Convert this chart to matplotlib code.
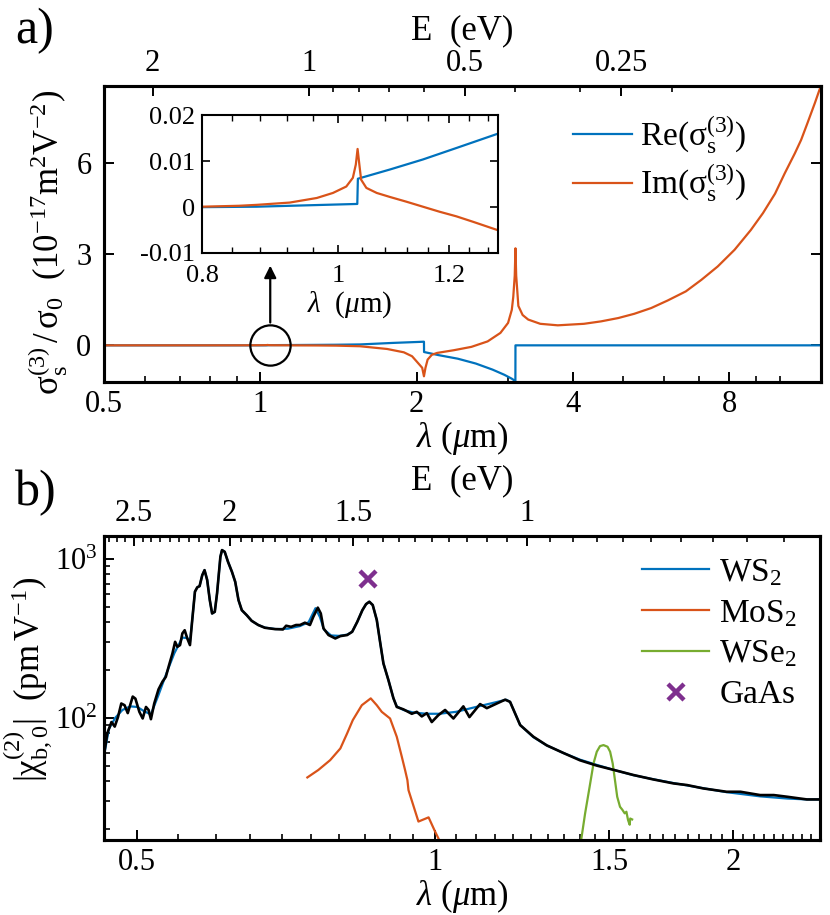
import numpy as np
import matplotlib.pyplot as plt
from matplotlib.ticker import FixedLocator, NullFormatter, MultipleLocator, LogLocator

plt.rcParams['font.family'] = ['Liberation Serif', 'DejaVu Serif']
plt.rcParams['mathtext.fontset'] = 'custom'
plt.rcParams['mathtext.rm'] = 'Liberation Serif'
plt.rcParams['mathtext.it'] = 'Liberation Serif:italic'
plt.rcParams['mathtext.default'] = 'regular'
plt.rcParams['xtick.direction'] = 'in'
plt.rcParams['ytick.direction'] = 'in'

# ---- panel a): third-order sheet conductivity (read from figure)
lam_re = [0.5, 0.8, 0.875, 1.0325, 1.0335, 1.089, 1.15, 1.215, 1.30, 1.4, 1.556, 1.8,
          2.0, 2.066, 2.067, 2.2, 2.4, 2.6, 2.8, 2.95, 3.05, 3.099, 3.1, 12.0]
re_s3 = [0.0, 0.0, 0.0001, 0.0007, 0.0062, 0.0082, 0.0104, 0.0129, 0.016, 0.02, 0.03, 0.08,
         0.11, 0.12, -0.22, -0.32, -0.44, -0.6, -0.8, -0.97, -1.1, -1.18, 0.0, 0.0]

lam_im = [0.5, 0.8, 0.85, 0.875, 0.924, 0.966, 0.992, 1.014, 1.025, 1.030, 1.033, 1.036, 1.039,
          1.048, 1.066, 1.09, 1.119, 1.15, 1.182, 1.215, 1.249, 1.30, 1.40, 1.556, 1.755, 1.89,
          1.96, 2.0, 2.05, 2.066, 2.08, 2.1, 2.14, 2.19, 2.36, 2.55, 2.74, 2.9, 3.0, 3.05,
          3.07, 3.09, 3.1, 3.11, 3.14, 3.2, 3.28, 3.46, 3.74, 4.2, 4.53, 4.89, 5.25, 5.66,
          6.09, 6.6, 7.07, 7.6, 8.19, 8.8, 9.29, 9.8, 10.23, 10.7, 11.0, 11.3, 11.7, 12.0]
im_s3 = [0.0, 0.0001, 0.0003, 0.0005, 0.001, 0.002, 0.0031, 0.0045, 0.0064, 0.0093, 0.0127,
         0.0093, 0.006, 0.0042, 0.0031, 0.0022, 0.0012, 0.0001, -0.001, -0.002, -0.0032,
         -0.005, -0.01, -0.03, -0.12, -0.23, -0.36, -0.53, -0.74, -1.02, -0.74, -0.47, -0.31,
         -0.25, -0.16, -0.05, 0.13, 0.41, 0.74, 1.17, 1.6, 2.3, 3.2, 2.3, 1.3, 1.0, 0.85, 0.71,
         0.66, 0.71, 0.79, 0.9, 1.04, 1.23, 1.48, 1.78, 2.16, 2.6, 3.15, 3.8, 4.36, 5.0, 5.67,
         6.33, 6.77, 7.3, 8.0, 8.54]

# ---- panel b): second-order bulk susceptibility (read from figure)
lam_ws2_exp = [0.4637, 0.4663, 0.4708, 0.4744, 0.478, 0.4817, 0.4854, 0.489, 0.4947, 0.4978,
               0.5024, 0.5063, 0.5102, 0.5133, 0.5161, 0.5201, 0.5253, 0.5302, 0.5343, 0.5384,
               0.5426, 0.546, 0.5489, 0.5523, 0.5553, 0.5583, 0.5617, 0.5652, 0.5682, 0.5718,
               0.5749, 0.578, 0.5816, 0.5847, 0.5883, 0.5919, 0.5951, 0.5988, 0.602, 0.6067,
               0.609, 0.6128, 0.6175, 0.6232, 0.628, 0.6328, 0.6377, 0.645, 0.6525, 0.6626,
               0.6728, 0.6884, 0.7017, 0.707, 0.7152, 0.7235, 0.7302, 0.7386, 0.7473, 0.7532,
               0.7611, 0.7664, 0.7712, 0.7803, 0.7927, 0.8021, 0.8149, 0.8245, 0.8343, 0.8443,
               0.8516, 0.8581, 0.8649, 0.8731, 0.8798, 0.8867, 0.897, 0.9075, 0.9147, 0.929,
               0.9472, 0.9583, 0.9695, 0.981, 0.9923, 1.0078, 1.0236, 1.0436, 1.068, 1.0832,
               1.1104, 1.128, 1.1545, 1.177, 1.1907, 1.219, 1.2571, 1.297, 1.3483, 1.401,
               1.457, 1.515, 1.587, 1.662, 1.742, 1.7976, 1.867, 1.971, 2.036, 2.131,
               2.2, 2.271, 2.376, 2.451]
chi_ws2_exp = [64, 80, 94, 88, 101, 123, 120, 107, 136, 132,
               109, 99, 117, 112, 98, 123, 151, 169, 181, 215,
               254, 301, 280, 287, 340, 356, 316, 287, 413, 623,
               663, 675, 791, 851, 738, 551, 454, 465, 608, 1034,
               1138, 1110, 961, 831, 718, 551, 476, 443, 408, 384,
               369, 362, 360, 380, 374, 384, 384, 397, 384, 433,
               494, 454, 366, 332, 316, 327, 332, 348, 402, 476,
               520, 538, 513, 413, 301, 220, 173, 133, 117, 113,
               106, 109, 102, 107, 94, 104, 112, 99, 118, 101,
               122, 115, 123, 130, 126, 90, 76, 67, 60, 54,
               50, 47, 43.6, 40.9, 38.6, 37.7, 35.9, 34.2, 34.2, 32.6,
               32.6, 31.8, 30.6, 30.6]

lam_ws2 = [0.4637, 0.468, 0.475, 0.483, 0.492, 0.50, 0.508, 0.516, 0.525, 0.535,
           0.545, 0.5553, 0.5617, 0.5652, 0.5682, 0.5718, 0.5749, 0.578, 0.5816, 0.5847,
           0.5883, 0.5919, 0.5951, 0.5988, 0.602, 0.6067, 0.609, 0.6128, 0.6175, 0.6232,
           0.628, 0.6328, 0.6377, 0.645, 0.6525, 0.6626, 0.6728, 0.69, 0.71, 0.73,
           0.745, 0.757, 0.765, 0.772, 0.785, 0.80, 0.815, 0.8245, 0.8343, 0.8443,
           0.8516, 0.8581, 0.8649, 0.8731, 0.8798, 0.8867, 0.897, 0.9075, 0.9147, 0.929,
           0.95, 0.98, 1.01, 1.05, 1.1, 1.15, 1.18, 1.1907, 1.219, 1.2571,
           1.297, 1.3483, 1.401, 1.457, 1.515, 1.587, 1.662, 1.742, 1.867, 1.971,
           2.131, 2.271, 2.376, 2.451]
chi_ws2 = [62, 85, 100, 112, 118, 117, 110, 105, 138, 190,
           255, 320, 318, 300, 413, 623, 663, 675, 791, 851,
           738, 551, 454, 465, 608, 1034, 1138, 1110, 961, 831,
           718, 551, 476, 443, 408, 384, 370, 362, 364, 378,
           400, 490, 430, 360, 330, 328, 334, 348, 402, 476,
           520, 538, 513, 413, 301, 220, 173, 133, 118, 112,
           108, 106, 106, 109, 117, 125, 130, 126, 90, 75.5,
           67, 60, 54.5, 50.5, 47, 43.5, 41, 38.8, 36, 34,
           32, 31, 30.6, 30.6]

lam_mos2 = [0.7428, 0.762, 0.7833, 0.8021, 0.8149, 0.8257, 0.8432, 0.8609, 0.8731, 0.8833,
            0.9005, 0.9147, 0.9255, 0.9325, 0.9376, 0.940, 0.962, 0.985, 1.0, 1.012]
chi_mos2 = [42.1, 46.9, 54.1, 64.1, 79.8, 96.7, 120, 132.5, 120, 109,
            99, 75.9, 56.8, 46.9, 40.5, 35.0, 22.2, 23.6, 19.2, 16.5]

lam_wse2 = [1.404, 1.418, 1.433, 1.446, 1.457, 1.468, 1.48, 1.494, 1.503, 1.512,
            1.52, 1.528, 1.538, 1.546, 1.555, 1.561, 1.567, 1.573, 1.575, 1.582]
chi_wse2 = [16.5, 25, 36.8, 51.6, 61.1, 66.3, 67.3, 65.7, 61.1, 51.6,
            40.5, 31.8, 27.5, 26.4, 25, 25.6, 22.7, 21.2, 23.2, 22.9]

lam_gaas = [0.856]
chi_gaas = [745]

E_major_a = [2, 1, 0.5, 0.25]
E_minor_a = [0.2, 0.3, 0.4, 0.6, 0.7, 0.8, 0.9]
E_major_b = [2.5, 2, 1.5, 1]
E_minor_b = [0.55, 0.6, 0.65, 0.7, 0.75, 0.8, 0.85, 0.9, 0.95, 1.05, 1.1, 1.15, 1.2, 1.25,
             1.3, 1.35, 1.4, 1.45, 1.55, 1.6, 1.65, 1.7, 1.75, 1.8, 1.85, 1.9, 1.95, 2.05,
             2.1, 2.15, 2.2, 2.25, 2.3, 2.35, 2.4, 2.45, 2.55, 2.6, 2.65]

hc = 1.24  # eV um

blue = '#0072BD'
orange = '#D95319'
green = '#77AC30'
purple = '#7E2F8E'

fs_tick = 22
fs_lab = 25

fig = plt.figure(figsize=(8.3, 9.15), dpi=100)


def style(ax, lw=2.2):
    for s in ax.spines.values():
        s.set_linewidth(lw)
    ax.tick_params(which='major', length=7, width=1.4, labelsize=fs_tick, pad=6)
    ax.tick_params(which='minor', length=4, width=1.2)


# ------------------------------------------------------------ panel a
ax1 = fig.add_axes([0.1253, 0.5828, 0.8635, 0.3232])
ax1.plot(lam_re, re_s3, color=blue, lw=1.6, label=r'Re($σ_s^{(3)}$)')
ax1.plot(lam_im, im_s3, color=orange, lw=1.6, label=r'Im($σ_s^{(3)}$)')
ax1.set_xscale('log')
ax1.set_xlim(0.5, 12)
ax1.set_ylim(-1.2, 8.55)
ax1.set_xticks([0.5, 1, 2, 4, 8], ['0.5', '1', '2', '4', '8'])
ax1.xaxis.set_minor_locator(LogLocator(base=10, subs=np.arange(1, 10), numticks=20))
ax1.xaxis.set_minor_formatter(NullFormatter())
ax1.set_yticks([0, 3, 6], ['0', '3', '6'])
ax1.tick_params(axis='y', right=True)
style(ax1)
ax1.tick_params(axis='y', pad=9)
ax1.set_xlabel(r'$\mathit{λ}$ ($\mathit{μ}$m)', fontsize=fs_lab, labelpad=0)
ax1.set_ylabel(r'$σ_s^{(3)}\,/\,σ_0\ \ (10^{-17}m^2V^{-2})$', fontsize=fs_lab)
ax1.yaxis.set_label_coords(-0.047, 0.47)
ax1.legend(loc='upper left', bbox_to_anchor=(0.655, 0.905), frameon=False, fontsize=24,
           handlelength=1.75, handletextpad=0.25, borderpad=0, borderaxespad=0,
           labelspacing=0.2)

# circle + arrow pointing to the inset
ax1.plot([1.045], [0], 'o', ms=29, mfc='none', mec='k', mew=1.6)
ax1.annotate('', xy=(1.045, 2.72), xytext=(1.045, 0.66),
             arrowprops=dict(arrowstyle='-|>', color='k', lw=1.6, mutation_scale=18))

axt1 = ax1.twiny()
axt1.set_xscale('log')
axt1.set_xlim(ax1.get_xlim())
axt1.set_xticks([hc / e for e in E_major_a], [str(e) for e in E_major_a])
axt1.set_xticks([hc / e for e in E_minor_a], minor=True)
axt1.xaxis.set_minor_formatter(NullFormatter())
style(axt1)
axt1.set_xlabel('E  (eV)', fontsize=fs_lab, labelpad=7)

# inset
axi = fig.add_axes([0.2434, 0.7235, 0.356, 0.1503])
axi.plot(lam_re, re_s3, color=blue, lw=1.6)
axi.plot(lam_im, im_s3, color=orange, lw=1.6)
axi.set_xscale('log')
axi.set_xlim(0.8, 1.3)
axi.set_ylim(-0.01, 0.02)
axi.set_xticks([0.8, 1, 1.2], ['0.8', '1', '1.2'])
axi.xaxis.set_minor_locator(MultipleLocator(0.04))
axi.xaxis.set_minor_formatter(NullFormatter())
axi.set_yticks([-0.01, 0, 0.01, 0.02], ['-0.01', '0', '0.01', '0.02'])
for s in axi.spines.values():
    s.set_linewidth(1.5)
axi.tick_params(which='both', top=True, right=True, labelsize=19)
axi.tick_params(which='major', length=6, width=1.2)
axi.tick_params(which='minor', length=4, width=1.0)
axi.tick_params(axis='x', pad=9)
axi.tick_params(axis='y', pad=5)
axi.set_xlabel(r'$\mathit{λ}$  ($\mathit{μ}$m)', fontsize=21, labelpad=1)

# ------------------------------------------------------------ panel b
ax2 = fig.add_axes([0.1253, 0.082, 0.8627, 0.3322])
ax2.plot(lam_ws2, chi_ws2, color=blue, lw=1.6, label='WS$_2$')
ax2.plot(lam_mos2, chi_mos2, color=orange, lw=1.6, label='MoS$_2$')
ax2.plot(lam_wse2, chi_wse2, color=green, lw=1.6, label='WSe$_2$')
ax2.plot(lam_gaas, chi_gaas, 'x', color=purple, ms=12, mew=3.2, label='GaAs')
ax2.plot(lam_ws2_exp, chi_ws2_exp, color='k', lw=1.9)
ax2.set_xscale('log')
ax2.set_yscale('log')
ax2.set_xlim(0.4627, 2.45)
ax2.set_ylim(17, 1396)
ax2.set_xticks([0.5, 1, 1.5, 2], ['0.5', '1', '1.5', '2'])
ax2.xaxis.set_minor_locator(MultipleLocator(0.05))
ax2.xaxis.set_minor_formatter(NullFormatter())
ax2.yaxis.set_major_locator(FixedLocator([100, 1000]))
ax2.yaxis.set_minor_locator(LogLocator(base=10, subs=np.arange(2, 10), numticks=20))
ax2.yaxis.set_minor_formatter(NullFormatter())
style(ax2)
ax2.tick_params(axis='y', pad=5)
ax2.set_xlabel(r'$\mathit{λ}$ ($\mathit{μ}$m)', fontsize=fs_lab, labelpad=0)
ax2.set_ylabel(r'$|χ_{b,0}^{(2)}|\ \ (pm\,V^{-1})$', fontsize=fs_lab)
ax2.yaxis.set_label_coords(-0.068, 0.53)
ax2.legend(loc='upper left', bbox_to_anchor=(0.752, 0.93), frameon=False, fontsize=24,
           handlelength=2.0, handletextpad=0.3, borderpad=0, borderaxespad=0,
           labelspacing=0.3)

axt2 = ax2.twiny()
axt2.set_xscale('log')
axt2.set_xlim(ax2.get_xlim())
axt2.set_xticks([hc / e for e in E_major_b], [str(e) for e in E_major_b])
axt2.set_xticks([hc / e for e in E_minor_b], minor=True)
axt2.xaxis.set_minor_formatter(NullFormatter())
style(axt2)
axt2.set_xlabel('E  (eV)', fontsize=fs_lab, labelpad=7)

fig.text(0.018, 0.966, 'a)', fontsize=36, va='center')
fig.text(0.018, 0.461, 'b)', fontsize=36, va='center')

fig.savefig('out.png', dpi=100)
